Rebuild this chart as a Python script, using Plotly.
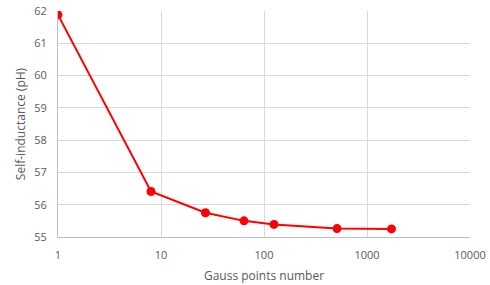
import plotly.graph_objects as go

gauss_points = [1, 8, 27, 64, 125, 512, 1728]
self_inductance = [61.88, 56.41, 55.75, 55.50, 55.39, 55.26, 55.25]
x_tick_vals = [1, 10, 100, 1000, 10000]
x_tick_text = ["1", "10", "100", "1000", "10000"]
y_tick_vals = [55, 56, 57, 58, 59, 60, 61, 62]

fig = go.Figure()
fig.add_trace(go.Scatter(
    x=gauss_points, y=self_inductance, mode="lines+markers",
    line=dict(color="#FF0000", width=2),
    marker=dict(color="#FF0000", size=9),
    showlegend=False,
))

font_family = "Open Sans, Liberation Sans, sans-serif"
fig.update_layout(
    width=490, height=285,
    margin=dict(l=58, r=20, t=11, b=48, autoexpand=False),
    plot_bgcolor="white", paper_bgcolor="white",
    font=dict(family=font_family, color="#595959", size=11),
    xaxis=dict(
        type="log", range=[0, 4], automargin=False,
        tickvals=x_tick_vals, ticktext=x_tick_text,
        showgrid=True, gridcolor="#d9d9d9", gridwidth=1,
        showline=True, linecolor="#bfbfbf", linewidth=1,
        ticks="", ticklen=0, ticklabelstandoff=8,
        tickfont=dict(size=11, color="#595959"),
        title=dict(text="Gauss points number", font=dict(size=12, color="#595959"), standoff=10),
        zeroline=False,
    ),
    yaxis=dict(
        range=[55, 62], tickvals=y_tick_vals, automargin=False,
        showgrid=True, gridcolor="#d9d9d9", gridwidth=1,
        showline=True, linecolor="#bfbfbf", linewidth=1,
        ticks="", ticklabelstandoff=8,
        tickfont=dict(size=11, color="#595959"),
        title=dict(text="Self-inductance (pH)", font=dict(size=12, color="#595959"), standoff=6),
        zeroline=False,
    ),
)
fig.write_html(
    "out.html",
    config={"displayModeBar": False},
    post_script="document.body.style.margin='0px';document.body.style.overflow='hidden';",
)
